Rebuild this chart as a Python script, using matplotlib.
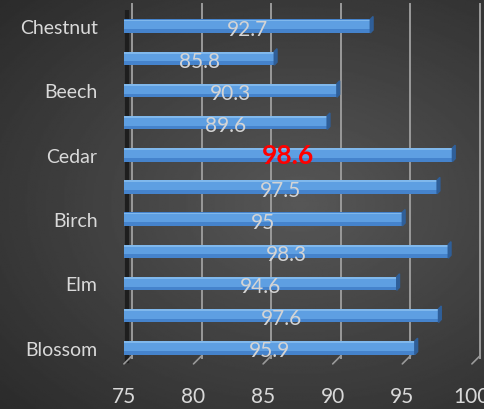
import numpy as np
import matplotlib.pyplot as plt
from matplotlib.patches import Polygon
from matplotlib import transforms

plt.rcParams['font.family'] = ['Lato', 'DejaVu Sans']

categories = ['Chestnut', '', 'Beech', '', 'Cedar', '', 'Birch', '', 'Elm', '', 'Blossom']
values = [92.7, 85.8, 90.3, 89.6, 98.6, 97.5, 95, 98.3, 94.6, 97.6, 95.9]
highlight = 4  # index of the bold red label
xticks = [75, 80, 85, 90, 95, 100]

fig = plt.figure(figsize=(4.84, 4.10), dpi=100)

# dark radial background
bg = fig.add_axes([0, 0, 1, 1], zorder=-10)
yy, xx = np.mgrid[0:1:300j, 0:1:300j]
r = np.sqrt(((xx - 0.62) / 1.0) ** 2 + ((yy - 0.5) / 0.85) ** 2)
bg.imshow(0.34 - 0.2 * r, cmap='gray', vmin=0, vmax=1, extent=[0, 1, 0, 1],
          aspect='auto', origin='lower')
bg.axis('off')

ax = fig.add_axes([0.256, 0.11, 0.719, 0.863])
ax.set_facecolor('none')
ax.set_xlim(75, 100)
ax.set_ylim(10.5, -0.5)

pos = np.arange(len(values))
h = 0.42
left = xticks[0]

# back wall gridlines, shifted right like a 3D wall
shift = transforms.ScaledTranslation(8 / 100, 6 / 100, fig.dpi_scale_trans)
for v in xticks:
    ax.plot([v, v], [0, 1], color='#9a9a9a', lw=1.4,
            transform=ax.get_xaxis_transform() + shift, clip_on=False, zorder=0)
    ax.annotate('', xy=(v, 0), xycoords=('data', 'axes fraction'),
                xytext=(6, 6), textcoords='offset points',
                arrowprops=dict(arrowstyle='-', color='#9a9a9a', lw=1.2,
                                shrinkA=0, shrinkB=0), annotation_clip=False)
# left wall shadow
ax.plot([75, 75], [0, 1], color='#1e1e1e', lw=3,
        transform=ax.get_xaxis_transform() + transforms.ScaledTranslation(
            3 / 100, 3 / 100, fig.dpi_scale_trans), zorder=1)

widths = [v - left for v in values]
ax.barh(pos, widths, left=left, height=h, color='#4583cc', zorder=3)
ax.barh(pos - h * 0.12, widths, left=left, height=h * 0.7, color='#5e9fe2', zorder=3)
ax.barh(pos - h * 0.42, widths, left=left, height=h * 0.14, color='#80b8ec', zorder=3)

dx, dy = 0.2, 0.09
for y, v in zip(pos, values):
    side = Polygon([(v, y - h / 2), (v + dx, y - h / 2 - dy),
                    (v + dx, y + h / 2 - dy), (v, y + h / 2)],
                   closed=True, color='#2f5f99', zorder=3)
    ax.add_patch(side)

for i, (y, v) in enumerate(zip(pos, values)):
    if i == highlight:
        ax.text((left + v) / 2, y + 0.02, f'{v:g}', ha='center', va='center',
                color='#ff0000', fontsize=19, fontweight='bold', zorder=5)
    else:
        ax.text((left + v) / 2, y + 0.08, f'{v:g}', ha='center', va='center',
                color='#d4d4d4', fontsize=15, zorder=5)

ax.set_yticks(pos)
ax.set_yticklabels(categories, color='#d9d9d9', fontsize=14)
ax.set_xticks(xticks)
ax.set_xticklabels([str(t) for t in xticks], color='#d9d9d9', fontsize=15)
ax.tick_params(axis='both', length=0)
ax.tick_params(axis='x', pad=16)
ax.tick_params(axis='y', pad=19)
for s in ax.spines.values():
    s.set_visible(False)

plt.savefig('out.png', dpi=100)
